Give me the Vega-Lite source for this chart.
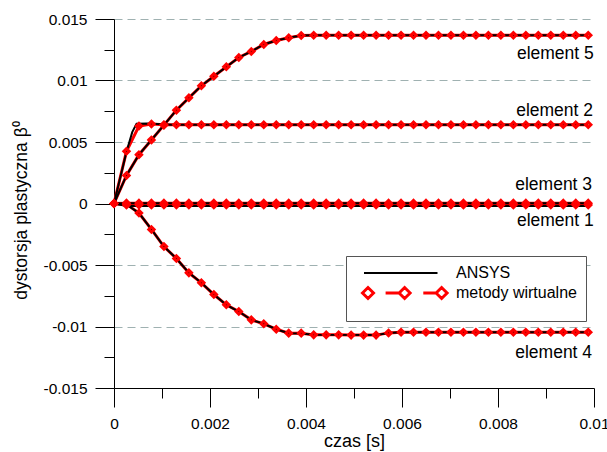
{
  "$schema": "https://vega.github.io/schema/vega-lite/v6.json",
  "width": 480,
  "height": 369,
  "autosize": {"type": "none"},
  "padding": {"left": 114, "top": 19, "right": 13, "bottom": 64},
  "background": "white",
  "config": {
    "view": {"stroke": null},
    "font": "Liberation Sans",
    "axis": {"labelFont": "Liberation Sans", "titleFont": "Liberation Sans", "labelColor": "black", "titleColor": "black", "domainColor": "black", "tickColor": "black", "titleFontWeight": "normal"}
  },
  "datasets": {
    "mw": [
      {"e": "5", "t": 0, "v": 0}, {"e": "5", "t": 0.00026, "v": 0.00228}, {"e": "5", "t": 0.00052, "v": 0.00397}, {"e": "5", "t": 0.00078, "v": 0.00517},
      {"e": "5", "t": 0.00104, "v": 0.00637}, {"e": "5", "t": 0.0013, "v": 0.00759}, {"e": "5", "t": 0.00156, "v": 0.00859}, {"e": "5", "t": 0.00182, "v": 0.00957},
      {"e": "5", "t": 0.00208, "v": 0.01035}, {"e": "5", "t": 0.00234, "v": 0.01111}, {"e": "5", "t": 0.0026, "v": 0.01187}, {"e": "5", "t": 0.00286, "v": 0.01236},
      {"e": "5", "t": 0.00312, "v": 0.01293}, {"e": "5", "t": 0.00338, "v": 0.01325}, {"e": "5", "t": 0.00364, "v": 0.01347}, {"e": "5", "t": 0.0039, "v": 0.01366},
      {"e": "5", "t": 0.00416, "v": 0.01368}, {"e": "5", "t": 0.00442, "v": 0.01368}, {"e": "5", "t": 0.00468, "v": 0.01368}, {"e": "5", "t": 0.00494, "v": 0.01368},
      {"e": "5", "t": 0.0052, "v": 0.01368}, {"e": "5", "t": 0.00546, "v": 0.01368}, {"e": "5", "t": 0.00572, "v": 0.01368}, {"e": "5", "t": 0.00598, "v": 0.01368},
      {"e": "5", "t": 0.00624, "v": 0.01368}, {"e": "5", "t": 0.0065, "v": 0.01368}, {"e": "5", "t": 0.00676, "v": 0.01368}, {"e": "5", "t": 0.00702, "v": 0.01368},
      {"e": "5", "t": 0.00728, "v": 0.01368}, {"e": "5", "t": 0.00754, "v": 0.01368}, {"e": "5", "t": 0.0078, "v": 0.01368}, {"e": "5", "t": 0.00806, "v": 0.01368},
      {"e": "5", "t": 0.00832, "v": 0.01368}, {"e": "5", "t": 0.00858, "v": 0.01368}, {"e": "5", "t": 0.00884, "v": 0.01368}, {"e": "5", "t": 0.0091, "v": 0.01368},
      {"e": "5", "t": 0.00936, "v": 0.01368}, {"e": "5", "t": 0.00962, "v": 0.01368}, {"e": "5", "t": 0.00988, "v": 0.01368},

      {"e": "2", "t": 0, "v": 0}, {"e": "2", "t": 0.00026, "v": 0.00424}, {"e": "2", "t": 0.00052, "v": 0.0063}, {"e": "2", "t": 0.00078, "v": 0.00646},
      {"e": "2", "t": 0.00104, "v": 0.0064}, {"e": "2", "t": 0.0013, "v": 0.0064}, {"e": "2", "t": 0.00156, "v": 0.0064}, {"e": "2", "t": 0.00182, "v": 0.0064},
      {"e": "2", "t": 0.00208, "v": 0.0064}, {"e": "2", "t": 0.00234, "v": 0.0064}, {"e": "2", "t": 0.0026, "v": 0.0064}, {"e": "2", "t": 0.00286, "v": 0.0064},
      {"e": "2", "t": 0.00312, "v": 0.0064}, {"e": "2", "t": 0.00338, "v": 0.0064}, {"e": "2", "t": 0.00364, "v": 0.0064}, {"e": "2", "t": 0.0039, "v": 0.0064},
      {"e": "2", "t": 0.00416, "v": 0.0064}, {"e": "2", "t": 0.00442, "v": 0.0064}, {"e": "2", "t": 0.00468, "v": 0.0064}, {"e": "2", "t": 0.00494, "v": 0.0064},
      {"e": "2", "t": 0.0052, "v": 0.0064}, {"e": "2", "t": 0.00546, "v": 0.0064}, {"e": "2", "t": 0.00572, "v": 0.0064}, {"e": "2", "t": 0.00598, "v": 0.0064},
      {"e": "2", "t": 0.00624, "v": 0.0064}, {"e": "2", "t": 0.0065, "v": 0.0064}, {"e": "2", "t": 0.00676, "v": 0.0064}, {"e": "2", "t": 0.00702, "v": 0.0064},
      {"e": "2", "t": 0.00728, "v": 0.0064}, {"e": "2", "t": 0.00754, "v": 0.0064}, {"e": "2", "t": 0.0078, "v": 0.0064}, {"e": "2", "t": 0.00806, "v": 0.0064},
      {"e": "2", "t": 0.00832, "v": 0.0064}, {"e": "2", "t": 0.00858, "v": 0.0064}, {"e": "2", "t": 0.00884, "v": 0.0064}, {"e": "2", "t": 0.0091, "v": 0.0064},
      {"e": "2", "t": 0.00936, "v": 0.0064}, {"e": "2", "t": 0.00962, "v": 0.0064}, {"e": "2", "t": 0.00988, "v": 0.0064},

      {"e": "3", "t": 0, "v": 0}, {"e": "3", "t": 0.00026, "v": 0.00003}, {"e": "3", "t": 0.00052, "v": 0.00003}, {"e": "3", "t": 0.00078, "v": 0.00003},
      {"e": "3", "t": 0.00104, "v": 0.00003}, {"e": "3", "t": 0.0013, "v": 0.00003}, {"e": "3", "t": 0.00156, "v": 0.00003}, {"e": "3", "t": 0.00182, "v": 0.00003},
      {"e": "3", "t": 0.00208, "v": 0.00003}, {"e": "3", "t": 0.00234, "v": 0.00003}, {"e": "3", "t": 0.0026, "v": 0.00003}, {"e": "3", "t": 0.00286, "v": 0.00003},
      {"e": "3", "t": 0.00312, "v": 0.00003}, {"e": "3", "t": 0.00338, "v": 0.00003}, {"e": "3", "t": 0.00364, "v": 0.00003}, {"e": "3", "t": 0.0039, "v": 0.00003},
      {"e": "3", "t": 0.00416, "v": 0.00003}, {"e": "3", "t": 0.00442, "v": 0.00003}, {"e": "3", "t": 0.00468, "v": 0.00003}, {"e": "3", "t": 0.00494, "v": 0.00003},
      {"e": "3", "t": 0.0052, "v": 0.00003}, {"e": "3", "t": 0.00546, "v": 0.00003}, {"e": "3", "t": 0.00572, "v": 0.00003}, {"e": "3", "t": 0.00598, "v": 0.00003},
      {"e": "3", "t": 0.00624, "v": 0.00003}, {"e": "3", "t": 0.0065, "v": 0.00003}, {"e": "3", "t": 0.00676, "v": 0.00003}, {"e": "3", "t": 0.00702, "v": 0.00003},
      {"e": "3", "t": 0.00728, "v": 0.00003}, {"e": "3", "t": 0.00754, "v": 0.00003}, {"e": "3", "t": 0.0078, "v": 0.00003}, {"e": "3", "t": 0.00806, "v": 0.00003},
      {"e": "3", "t": 0.00832, "v": 0.00003}, {"e": "3", "t": 0.00858, "v": 0.00003}, {"e": "3", "t": 0.00884, "v": 0.00003}, {"e": "3", "t": 0.0091, "v": 0.00003},
      {"e": "3", "t": 0.00936, "v": 0.00003}, {"e": "3", "t": 0.00962, "v": 0.00003}, {"e": "3", "t": 0.00988, "v": 0.00003},

      {"e": "1", "t": 0, "v": 0}, {"e": "1", "t": 0.00026, "v": -0.00012}, {"e": "1", "t": 0.00052, "v": -0.00012}, {"e": "1", "t": 0.00078, "v": -0.00012},
      {"e": "1", "t": 0.00104, "v": -0.00012}, {"e": "1", "t": 0.0013, "v": -0.00012}, {"e": "1", "t": 0.00156, "v": -0.00012}, {"e": "1", "t": 0.00182, "v": -0.00012},
      {"e": "1", "t": 0.00208, "v": -0.00012}, {"e": "1", "t": 0.00234, "v": -0.00012}, {"e": "1", "t": 0.0026, "v": -0.00012}, {"e": "1", "t": 0.00286, "v": -0.00012},
      {"e": "1", "t": 0.00312, "v": -0.00012}, {"e": "1", "t": 0.00338, "v": -0.00012}, {"e": "1", "t": 0.00364, "v": -0.00012}, {"e": "1", "t": 0.0039, "v": -0.00012},
      {"e": "1", "t": 0.00416, "v": -0.00012}, {"e": "1", "t": 0.00442, "v": -0.00012}, {"e": "1", "t": 0.00468, "v": -0.00012}, {"e": "1", "t": 0.00494, "v": -0.00012},
      {"e": "1", "t": 0.0052, "v": -0.00012}, {"e": "1", "t": 0.00546, "v": -0.00012}, {"e": "1", "t": 0.00572, "v": -0.00012}, {"e": "1", "t": 0.00598, "v": -0.00012},
      {"e": "1", "t": 0.00624, "v": -0.00012}, {"e": "1", "t": 0.0065, "v": -0.00012}, {"e": "1", "t": 0.00676, "v": -0.00012}, {"e": "1", "t": 0.00702, "v": -0.00012},
      {"e": "1", "t": 0.00728, "v": -0.00012}, {"e": "1", "t": 0.00754, "v": -0.00012}, {"e": "1", "t": 0.0078, "v": -0.00012}, {"e": "1", "t": 0.00806, "v": -0.00012},
      {"e": "1", "t": 0.00832, "v": -0.00012}, {"e": "1", "t": 0.00858, "v": -0.00012}, {"e": "1", "t": 0.00884, "v": -0.00012}, {"e": "1", "t": 0.0091, "v": -0.00012},
      {"e": "1", "t": 0.00936, "v": -0.00012}, {"e": "1", "t": 0.00962, "v": -0.00012}, {"e": "1", "t": 0.00988, "v": -0.00012},

      {"e": "4", "t": 0, "v": 0}, {"e": "4", "t": 0.00026, "v": -0.00005}, {"e": "4", "t": 0.00052, "v": -0.00078}, {"e": "4", "t": 0.00078, "v": -0.00211},
      {"e": "4", "t": 0.00104, "v": -0.0035}, {"e": "4", "t": 0.0013, "v": -0.00447}, {"e": "4", "t": 0.00156, "v": -0.00564}, {"e": "4", "t": 0.00182, "v": -0.00645},
      {"e": "4", "t": 0.00208, "v": -0.0074}, {"e": "4", "t": 0.00234, "v": -0.00824}, {"e": "4", "t": 0.0026, "v": -0.00878}, {"e": "4", "t": 0.00286, "v": -0.00946},
      {"e": "4", "t": 0.00312, "v": -0.00978}, {"e": "4", "t": 0.00338, "v": -0.01022}, {"e": "4", "t": 0.00364, "v": -0.01054}, {"e": "4", "t": 0.0039, "v": -0.01054},
      {"e": "4", "t": 0.00416, "v": -0.01068}, {"e": "4", "t": 0.00442, "v": -0.01068}, {"e": "4", "t": 0.00468, "v": -0.01068}, {"e": "4", "t": 0.00494, "v": -0.0107},
      {"e": "4", "t": 0.0052, "v": -0.0107}, {"e": "4", "t": 0.00546, "v": -0.0107}, {"e": "4", "t": 0.00572, "v": -0.01052}, {"e": "4", "t": 0.00598, "v": -0.01046},
      {"e": "4", "t": 0.00624, "v": -0.01046}, {"e": "4", "t": 0.0065, "v": -0.01046}, {"e": "4", "t": 0.00676, "v": -0.01046}, {"e": "4", "t": 0.00702, "v": -0.01046},
      {"e": "4", "t": 0.00728, "v": -0.01046}, {"e": "4", "t": 0.00754, "v": -0.01046}, {"e": "4", "t": 0.0078, "v": -0.01046}, {"e": "4", "t": 0.00806, "v": -0.01046},
      {"e": "4", "t": 0.00832, "v": -0.01046}, {"e": "4", "t": 0.00858, "v": -0.01046}, {"e": "4", "t": 0.00884, "v": -0.01046}, {"e": "4", "t": 0.0091, "v": -0.01046},
      {"e": "4", "t": 0.00936, "v": -0.01046}, {"e": "4", "t": 0.00962, "v": -0.01046}, {"e": "4", "t": 0.00988, "v": -0.01046}
    ],
    "ansys": [
      {"e": "5", "t": 0, "v": 0}, {"e": "5", "t": 0.00026, "v": 0.00228}, {"e": "5", "t": 0.00052, "v": 0.00397}, {"e": "5", "t": 0.00078, "v": 0.00517},
      {"e": "5", "t": 0.00104, "v": 0.00637}, {"e": "5", "t": 0.0013, "v": 0.00759}, {"e": "5", "t": 0.00156, "v": 0.00859}, {"e": "5", "t": 0.00182, "v": 0.00957},
      {"e": "5", "t": 0.00208, "v": 0.01035}, {"e": "5", "t": 0.00234, "v": 0.01111}, {"e": "5", "t": 0.0026, "v": 0.01187}, {"e": "5", "t": 0.00286, "v": 0.01236},
      {"e": "5", "t": 0.00312, "v": 0.01293}, {"e": "5", "t": 0.00338, "v": 0.01325}, {"e": "5", "t": 0.00364, "v": 0.01347}, {"e": "5", "t": 0.0039, "v": 0.01366},
      {"e": "5", "t": 0.00416, "v": 0.01368}, {"e": "5", "t": 0.00988, "v": 0.01368},
      {"e": "2", "t": 0, "v": 0}, {"e": "2", "t": 0.00026, "v": 0.0042}, {"e": "2", "t": 0.00038, "v": 0.0058}, {"e": "2", "t": 0.00047, "v": 0.00648},
      {"e": "2", "t": 0.0007, "v": 0.0065}, {"e": "2", "t": 0.0012, "v": 0.0064}, {"e": "2", "t": 0.00988, "v": 0.0064},
      {"e": "3", "t": 0, "v": 0}, {"e": "3", "t": 0.00026, "v": 0.00002}, {"e": "3", "t": 0.00988, "v": 0.00002},
      {"e": "1", "t": 0, "v": 0}, {"e": "1", "t": 0.00026, "v": -0.0002}, {"e": "1", "t": 0.00988, "v": -0.0002},
      {"e": "4", "t": 0, "v": 0}, {"e": "4", "t": 0.00026, "v": -0.00008}, {"e": "4", "t": 0.00052, "v": -0.00078}, {"e": "4", "t": 0.00078, "v": -0.00211},
      {"e": "4", "t": 0.00104, "v": -0.0035}, {"e": "4", "t": 0.0013, "v": -0.00447}, {"e": "4", "t": 0.00156, "v": -0.00564}, {"e": "4", "t": 0.00182, "v": -0.00645},
      {"e": "4", "t": 0.00208, "v": -0.0074}, {"e": "4", "t": 0.00234, "v": -0.00824}, {"e": "4", "t": 0.0026, "v": -0.00878}, {"e": "4", "t": 0.00286, "v": -0.00946},
      {"e": "4", "t": 0.00312, "v": -0.00978}, {"e": "4", "t": 0.00338, "v": -0.01022}, {"e": "4", "t": 0.00364, "v": -0.01054}, {"e": "4", "t": 0.0039, "v": -0.01056},
      {"e": "4", "t": 0.00416, "v": -0.01068}, {"e": "4", "t": 0.00546, "v": -0.0107}, {"e": "4", "t": 0.00572, "v": -0.01052}, {"e": "4", "t": 0.00598, "v": -0.01046},
      {"e": "4", "t": 0.00988, "v": -0.01046}
    ],
    "labels": [
      {"label": "element 5", "t": 0.009995, "v": 0.01172},
      {"label": "element 2", "t": 0.00998, "v": 0.00711},
      {"label": "element 3", "t": 0.00996, "v": 0.00109},
      {"label": "element 1", "t": 0.009995, "v": -0.00184},
      {"label": "element 4", "t": 0.00996, "v": -0.01253}
    ]
  },
  "encoding": {
    "x": {
      "field": "t", "type": "quantitative",
      "scale": {"domain": [0, 0.01], "nice": false, "zero": false},
      "axis": {
        "title": "czas [s]",
        "values": [0, 0.001, 0.002, 0.003, 0.004, 0.005, 0.006, 0.007, 0.008, 0.009, 0.01],
        "labelExpr": "round(datum.value*10000) % 20 == 0 ? format(datum.value, '~g') : ''",
        "tickSize": {"condition": {"test": "round(datum.value*10000) % 20 == 0", "value": 19}, "value": 10},
        "grid": false,
        "labelFontSize": 15.5,
        "labelPadding": 9,
        "labelFlush": false,
        "labelOverlap": false,
        "titleFontSize": 18,
        "titleBaseline": "alphabetic",
        "titleY": 58
      }
    },
    "y": {
      "field": "v", "type": "quantitative",
      "scale": {"domain": [-0.015, 0.015], "nice": false, "zero": false},
      "axis": {
        "title": "dystorsja plastyczna β⁰",
        "values": [-0.015, -0.0125, -0.01, -0.0075, -0.005, -0.0025, 0, 0.0025, 0.005, 0.0075, 0.01, 0.0125, 0.015],
        "labelExpr": "round(datum.value*10000) % 50 == 0 ? (datum.value < 0 ? '-' : '') + format(abs(datum.value), '~g') : ''",
        "tickSize": {"condition": {"test": "round(datum.value*10000) % 50 == 0", "value": 19}, "value": 10},
        "grid": true,
        "gridDash": [8, 5],
        "gridColor": "#9fb1b1",
        "gridOpacity": {"condition": {"test": "round(datum.value*10000) % 50 == 0 && datum.value > -0.014", "value": 1}, "value": 0},
        "labelFontSize": 15.5,
        "labelPadding": 8,
        "labelFlush": false,
        "labelOverlap": false,
        "titleFontSize": 17.5,
        "titleBaseline": "alphabetic",
        "titleX": -88,
        "titleY": 191
      }
    }
  },
  "layer": [
    {
      "data": {"name": "mw"},
      "mark": {"type": "line", "strokeWidth": 3},
      "encoding": {
        "detail": {"field": "e"},
        "color": {
          "datum": "metody wirtualne",
          "type": "nominal",
          "scale": {"domain": ["ANSYS", "metody wirtualne"], "range": ["black", "red"]},
          "legend": {
            "title": " ",
            "titleOrient": "bottom",
            "titleFontSize": 2,
            "titlePadding": 5,
            "orient": "none",
            "legendX": 232,
            "legendY": 237,
            "direction": "vertical",
            "padding": 9,
            "fillColor": "white",
            "strokeColor": "#555555",
            "symbolSize": 100,
            "symbolStrokeWidth": 2,
            "labelFontSize": 16,
            "labelFont": "Liberation Sans",
            "labelColor": "black",
            "labelOffset": 85,
            "rowPadding": 0,
            "encode": {
              "symbols": {
                "update": {
                  "shape": {"signal": "datum.value === 'ANSYS' ? 'M0.2,0L14.9,0' : 'M-0.1,0L1.0,-1.1L2.1,0L1.0,1.1Z M4.52,0L7.22,0 M7.22,0L8.32,-1.1L9.42,0L8.32,1.1Z M12.06,0L14.62,0 M14.62,0L15.72,-1.1L16.82,0L15.72,1.1Z'"},
                  "stroke": {"signal": "datum.value === 'ANSYS' ? 'black' : 'red'"},
                  "strokeWidth": {"signal": "datum.value === 'ANSYS' ? 2 : 3"},
                  "fill": {"value": "transparent"},
                  "opacity": {"value": 1}
                }
              }
            }
          }
        }
      }
    },
    {
      "data": {"name": "ansys"},
      "mark": {"type": "line", "strokeWidth": 2},
      "encoding": {
        "detail": {"field": "e"},
        "color": {"datum": "ANSYS", "type": "nominal"}
      }
    },
    {
      "data": {"name": "mw"},
      "mark": {"type": "point", "shape": "diamond", "filled": false, "stroke": "red", "strokeWidth": 3, "size": 28, "opacity": 1}
    },
    {
      "data": {"name": "labels"},
      "mark": {"type": "text", "align": "right", "baseline": "alphabetic", "fontSize": 17.5, "font": "Liberation Sans", "color": "black"},
      "encoding": {"text": {"field": "label"}}
    }
  ]
}
